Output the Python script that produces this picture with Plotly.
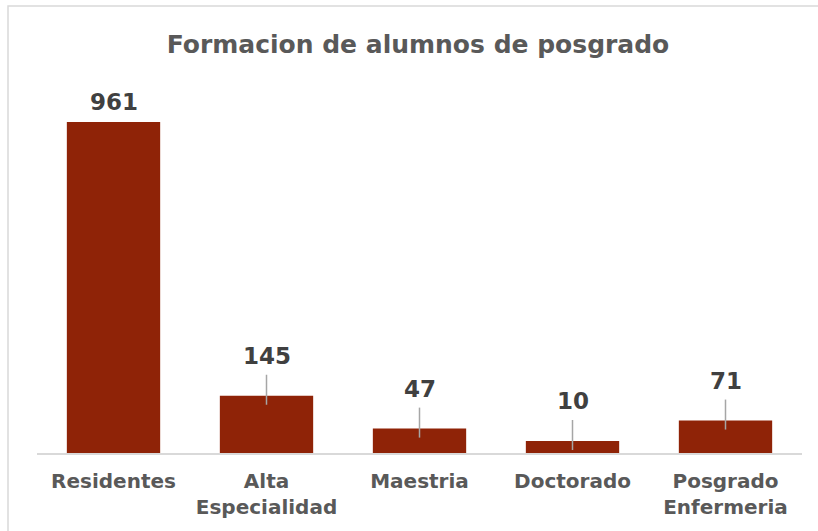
import plotly.graph_objects as go

categories = ["Residentes", "Alta<br>Especialidad", "Maestria", "Doctorado", "Posgrado<br>Enfermeria"]
values = [961, 145, 47, 10, 71]
title_text = "Formacion de alumnos de posgrado"

AXIS_MIN = -25.7
BAR_COLOR = "#8F2307"
TEXT_COLOR = "#595959"
FONT = "DejaVu Sans"

fig = go.Figure()
fig.add_trace(go.Bar(
    x=categories,
    y=[v - AXIS_MIN for v in values],
    base=AXIS_MIN,
    marker=dict(color=BAR_COLOR, line=dict(width=0)),
    hoverinfo="skip",
))

# data labels and leader lines
for i, (c, v) in enumerate(zip(categories, values)):
    leader = i > 0
    fig.add_annotation(
        x=c, y=v, xref="x", yref="y",
        text=f"<b>{v}</b>", showarrow=False,
        yanchor="middle", yshift=40 if leader else 20,
        font=dict(family=FONT, size=23, color="#404040"),
    )
    if leader:
        fig.add_shape(
            type="line", xref="x", yref="y", ysizemode="pixel", yanchor=v,
            x0=c, x1=c, y0=-9, y1=21,
            line=dict(color="#A6A6A6", width=1.5),
        )

# chart border
fig.add_shape(type="rect", xref="paper", yref="paper",
              x0=-0.0379, x1=1.04, y0=-0.3, y1=1.3505,
              line=dict(color="#D9D9D9", width=1.5), fillcolor="rgba(0,0,0,0)", layer="below")

fig.update_layout(
    width=818, height=531,
    margin=dict(l=37, r=16, t=122, b=78),
    paper_bgcolor="white", plot_bgcolor="white",
    title=dict(text=f"<b>{title_text}</b>", x=0.511, xanchor="center",
               y=1 - 44 / 531, yanchor="middle",
               font=dict(family=FONT, size=25, color=TEXT_COLOR)),
    bargap=0.39,
    showlegend=False,
    xaxis=dict(showline=True, linecolor="#D9D9D9", linewidth=1.5, ticks="",
               tickfont=dict(family=FONT, size=20, color=TEXT_COLOR, weight="bold"),
               ticklabelstandoff=9, showgrid=False, zeroline=False),
    yaxis=dict(range=[AXIS_MIN, 961], visible=False, showgrid=False, zeroline=False),
)

fig.write_html("out.html", config={"displayModeBar": False},
               post_script="document.body.style.margin='0px';")
